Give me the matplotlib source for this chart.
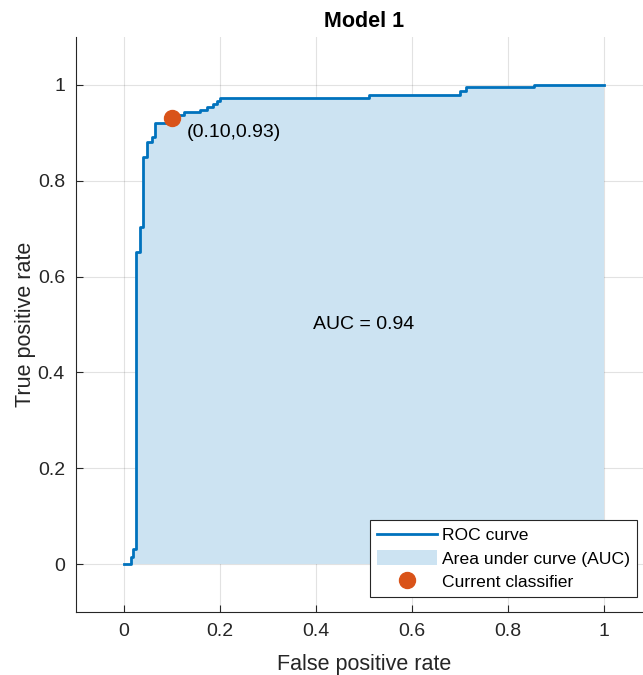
import numpy as np
import matplotlib.pyplot as plt
from matplotlib.ticker import FormatStrFormatter

plt.rcParams['font.family'] = ['Liberation Sans', 'DejaVu Sans']

# ROC curve vertices (false positive rate, true positive rate)
fpr = [0.0, 0.014, 0.014, 0.019, 0.019, 0.026, 0.026, 0.033, 0.033, 0.040,
       0.040, 0.047, 0.047, 0.058, 0.058, 0.065, 0.065, 0.100, 0.100, 0.126,
       0.126, 0.158, 0.158, 0.172, 0.172, 0.186, 0.186, 0.193, 0.193, 0.200,
       0.200, 0.511, 0.511, 0.699, 0.699, 0.712, 0.712, 0.854, 0.854, 1.0]
tpr = [0.0, 0.0, 0.014, 0.014, 0.031, 0.031, 0.652, 0.652, 0.703, 0.703,
       0.849, 0.849, 0.881, 0.881, 0.891, 0.891, 0.921, 0.921, 0.938, 0.938,
       0.943, 0.943, 0.948, 0.948, 0.953, 0.953, 0.960, 0.960, 0.967, 0.967,
       0.973, 0.973, 0.980, 0.980, 0.988, 0.988, 0.996, 0.996, 1.0, 1.0]
current_point = (0.10, 0.93)
auc = 0.94
ticks = [0, 0.2, 0.4, 0.6, 0.8, 1]

txt = '#262626'
blue = '#0072BD'
fill = (204 / 255, 227 / 255, 242 / 255)
orange = '#D95319'

fig = plt.figure(figsize=(6.43, 6.75), dpi=100)
ax = fig.add_axes([76 / 643, 63 / 675, 576 / 643, 575 / 675])

ax.fill_between(fpr, tpr, 0, color=fill, linewidth=0, label='Area under curve (AUC)', zorder=1)
ax.plot(fpr, tpr, color=blue, linewidth=2, label='ROC curve', zorder=3)
ax.plot(current_point[0], current_point[1], 'o', color=orange, markersize=11.5,
        label='Current classifier', zorder=4)
ax.text(current_point[0] + 0.03, current_point[1] - 0.03,
        '(%.2f,%.2f)' % current_point, fontsize=14, color='k', va='center', ha='left')
ax.text(0.5, 0.5, 'AUC = %.2f' % auc, fontsize=14, color='k', va='center', ha='center')

ax.set_xlim(-0.1, 1.1)
ax.set_ylim(-0.1, 1.1)
ax.set_xticks(ticks)
ax.set_yticks(ticks)
ax.xaxis.set_major_formatter(FormatStrFormatter('%g'))
ax.yaxis.set_major_formatter(FormatStrFormatter('%g'))
ax.tick_params(direction='in', length=5, width=0.8, colors=txt, labelsize=14, pad=8)
ax.grid(True, color='#262626', alpha=0.13, linewidth=0.8)
ax.set_axisbelow(True)
for s in ['top', 'right']:
    ax.spines[s].set_visible(False)
for s in ['left', 'bottom']:
    ax.spines[s].set_color(txt)
    ax.spines[s].set_linewidth(0.8)

ax.set_xlabel('False positive rate', fontsize=15.5, color=txt, labelpad=10)
ax.set_ylabel('True positive rate', fontsize=15.5, color=txt, labelpad=1.5)
ax.set_title('Model 1', fontsize=15.5, fontweight='bold', color='k', pad=7)

h, l = ax.get_legend_handles_labels()
order = [1, 0, 2]
leg = ax.legend([h[i] for i in order], [l[i] for i in order],
                loc='lower right', bbox_to_anchor=(0.974, 0.026), fontsize=12.6,
                frameon=True, fancybox=False, edgecolor=txt, framealpha=1,
                handlelength=3.4, handleheight=0.9, handletextpad=0.3,
                borderpad=0.4, labelspacing=0.4, borderaxespad=0)
leg.get_frame().set_linewidth(0.8)

fig.savefig('out.png', dpi=100)
